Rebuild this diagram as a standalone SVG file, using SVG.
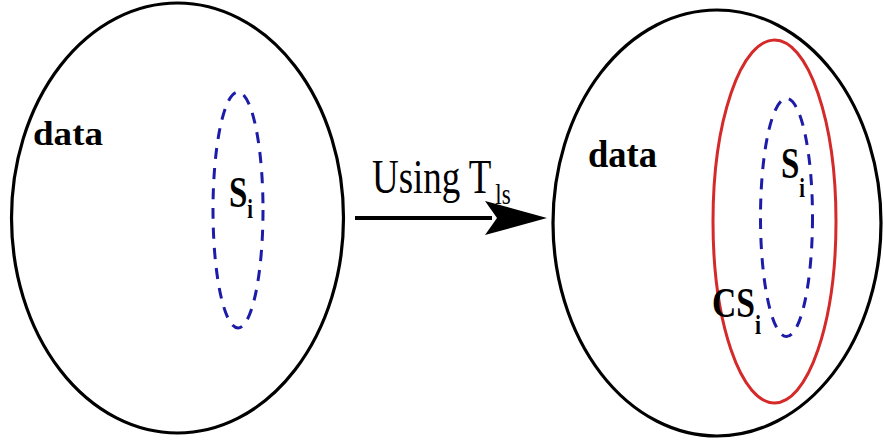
<svg xmlns="http://www.w3.org/2000/svg" width="884" height="444" viewBox="0 0 884 444">
<style>
.outer{fill:none;stroke:#000;stroke-width:3.2}
.sub{fill:none;stroke:#1c1ca8;stroke-width:3;stroke-dasharray:11 9}
.cs{fill:none;stroke:#d42a2a;stroke-width:3}
.t{font-family:'Liberation Serif','Times New Roman','DejaVu Serif',serif;fill:#000}
.b{font-weight:bold}
</style>
<rect width="884" height="444" fill="#fff"/>
<g id="left-data">
<ellipse class="outer" cx="177.5" cy="218" rx="166" ry="215"/>
<text class="t b" x="33" y="145" font-size="34" textLength="70" lengthAdjust="spacingAndGlyphs">data</text>
</g>
<g id="left-si">
<ellipse class="sub" cx="238" cy="210" rx="25" ry="118"/>
<text class="t b" transform="translate(229,207) scale(0.75,1)" font-size="44">S<tspan dy="11" font-size="27">i</tspan></text>
</g>
<g id="right-data">
<ellipse class="outer" cx="717" cy="223" rx="164" ry="213"/>
<text class="t b" x="588" y="167" font-size="38" textLength="69" lengthAdjust="spacingAndGlyphs">data</text>
</g>
<g id="right-csi">
<ellipse class="cs" cx="774.5" cy="221.5" rx="61.5" ry="181.5"/>
<text class="t b" transform="translate(712,317) scale(0.8,1)" font-size="42">CS<tspan dy="17" font-size="27">i</tspan></text>
</g>
<g id="right-si">
<ellipse class="sub" cx="786.5" cy="217.5" rx="26" ry="119"/>
<text class="t b" transform="translate(781,178) scale(0.75,1)" font-size="44">S<tspan dy="19" font-size="27">i</tspan></text>
</g>
<g id="connectors">
<line x1="355" y1="218" x2="492" y2="218" stroke="#000" stroke-width="4"/>
<polygon points="547,218 485,201 497,218 485,235" fill="#000"/>
<text class="t" transform="translate(372,193) scale(0.77,1)" font-size="48">Using T<tspan dx="5" dy="11" font-size="30">ls</tspan></text>
</g>
</svg>
